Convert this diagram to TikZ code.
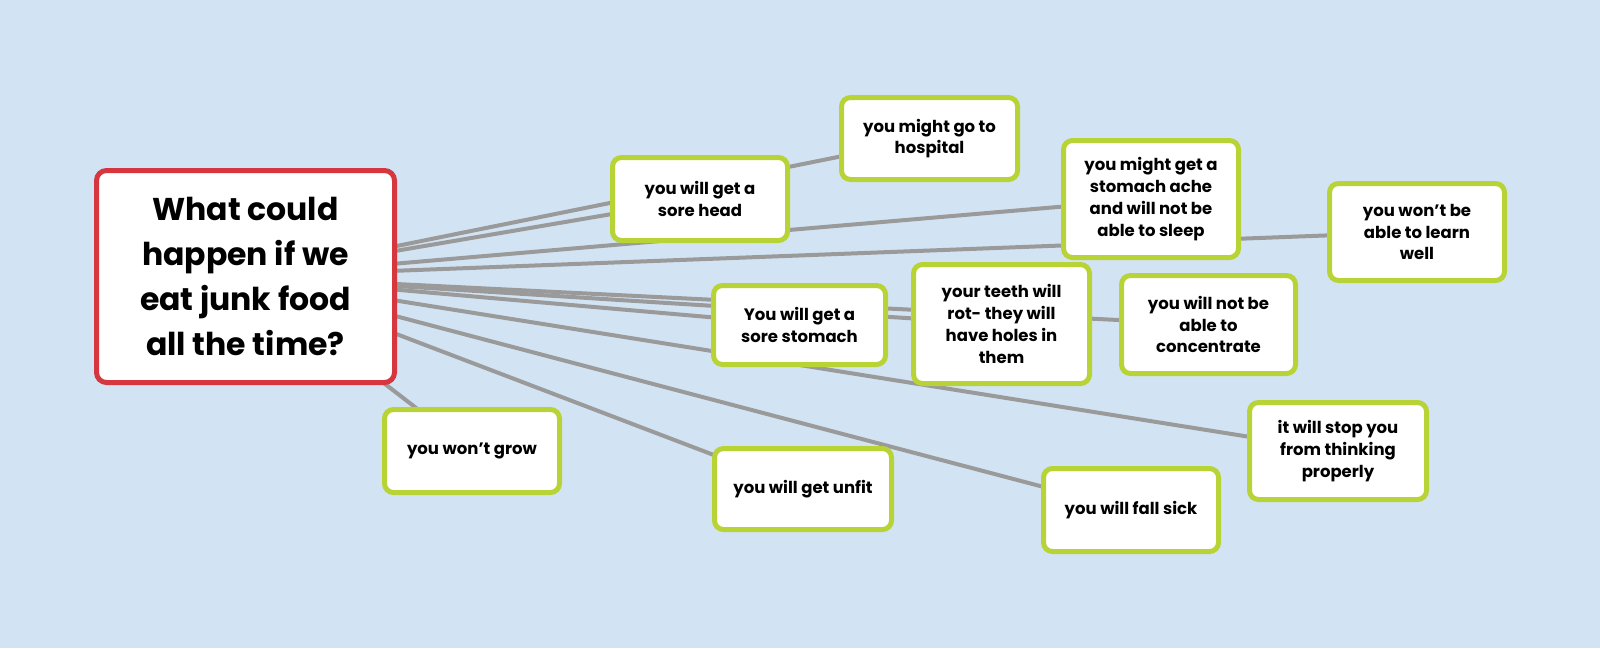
\documentclass[tikz,border=0pt]{standalone}
\usepackage{fontspec}
\setmainfont{Poppins}
\pgfdeclarelayer{bg}
\pgfdeclarelayer{links}
\pgfsetlayers{bg,links,main}
\definecolor{bgblue}{RGB}{210,228,243}
\definecolor{leafgreen}{RGB}{184,211,54}
\definecolor{hubred}{RGB}{214,54,62}
\definecolor{linkgray}{RGB}{154,154,154}
\tikzset{
  leafbox/.style={draw=leafgreen, line width=5pt, fill=white, rounded corners=9pt,
    align=center, inner sep=0pt, text=black,
    font=\fontsize{16.5}{21.8}\selectfont\bfseries},
  hubbox/.style={draw=hubred, line width=5pt, fill=white, rounded corners=10pt,
    align=center, inner sep=0pt, text=black,
    minimum width=298pt, minimum height=212pt,
    font=\fontsize{31.5}{45}\selectfont\bfseries},
  conn/.style={draw=linkgray, line width=4pt}
}
\begin{document}
\begin{tikzpicture}[x=1pt,y=-1pt]
\begin{pgfonlayer}{bg}
\fill[bgblue] (0,0) rectangle (1600,648);
\end{pgfonlayer}
\useasboundingbox (0,0) rectangle (1600,648);

\node[hubbox] (hub) at (245.5,276.5) {What could\\happen if we\\eat junk food\\all the time?};

\node[leafbox, minimum width=175pt, minimum height=83pt] (sorehead) at (700,199) {you will get a\\sore head};
\node[leafbox, minimum width=176pt, minimum height=82pt] (hospital) at (929.5,138.5) {you might go to\\hospital};
\node[leafbox, minimum width=175pt, minimum height=117pt] (ache) at (1151,199) {you might get a\\stomach ache\\and will not be\\able to sleep};
\node[leafbox, minimum width=175pt, minimum height=97pt] (learn) at (1417,232) {you won’t be\\able to learn\\well};
\node[leafbox, minimum width=172pt, minimum height=79pt] (sorestomach) at (799.5,325) {You will get a\\sore stomach};
\node[leafbox, minimum width=176pt, minimum height=119pt] (teeth) at (1001.5,324) {your teeth will\\rot- they will\\have holes in\\them};
\node[leafbox, minimum width=174pt, minimum height=98pt] (concentrate) at (1208.5,324.5) {you will not be\\able to\\concentrate};
\node[leafbox, minimum width=177pt, minimum height=97pt] (thinking) at (1338,451) {it will stop you\\from thinking\\properly};
\node[leafbox, minimum width=175pt, minimum height=83pt] (grow) at (472,451) {you won’t grow};
\node[leafbox, minimum width=177pt, minimum height=81pt] (unfit) at (803,489) {you will get unfit};
\node[leafbox, minimum width=175pt, minimum height=83pt] (sick) at (1131,510) {you will fall sick};

\begin{pgfonlayer}{links}
\foreach \t in {sorehead,hospital,ache,learn,sorestomach,teeth,concentrate,thinking,grow,unfit,sick}
  \draw[conn] (hub.center) -- (\t.center);
\end{pgfonlayer}
\end{tikzpicture}
\end{document}
